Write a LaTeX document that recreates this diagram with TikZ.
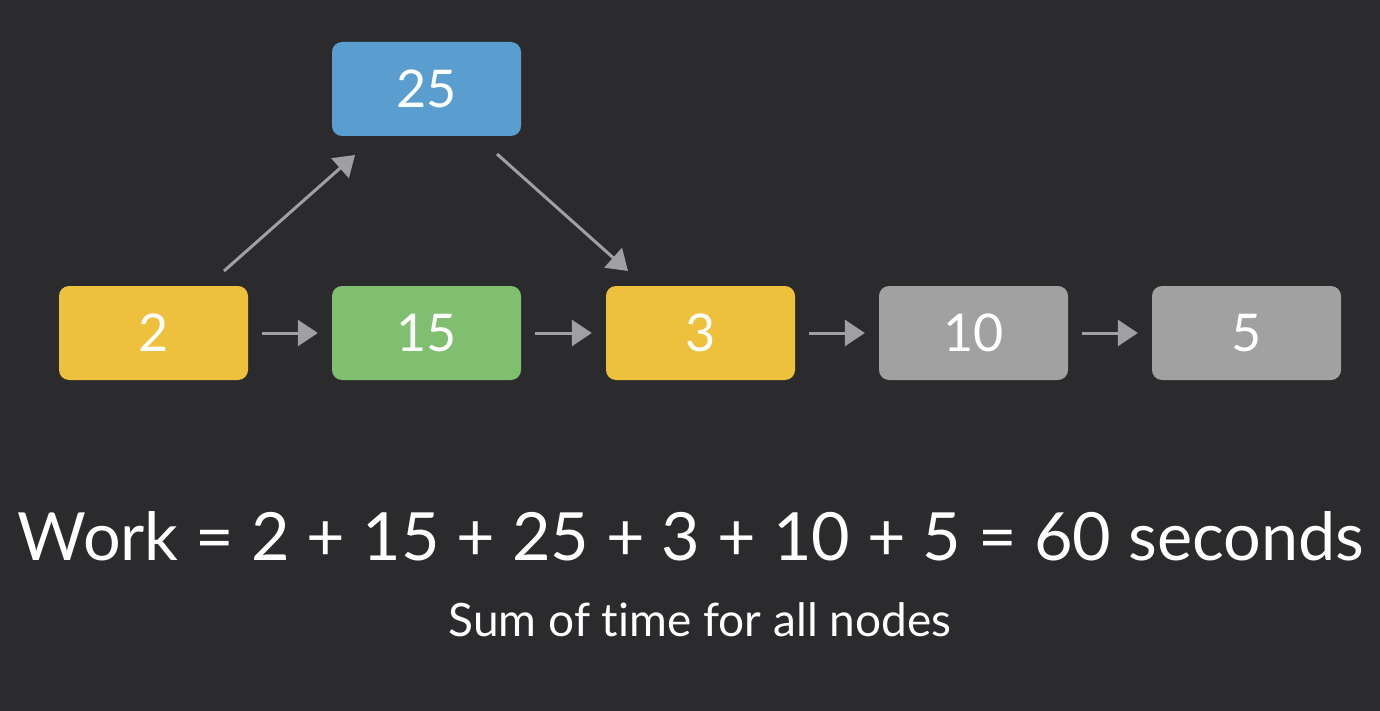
\documentclass[tikz,border=0pt]{standalone}
\usepackage{fontspec}
\setmainfont{Lato}[Ligatures={NoCommon,TeX}]
\usetikzlibrary{arrows.meta}
\definecolor{bg}{HTML}{2B2A2D}
\definecolor{cyellow}{HTML}{EDC13B}
\definecolor{cgreen}{HTML}{80BE70}
\definecolor{cblue}{HTML}{5A9ECF}
\definecolor{cgray}{HTML}{A1A1A2}
\definecolor{carrow}{HTML}{A0A0A2}
\tikzset{
  box/.style={rounded corners=10pt, minimum width=189pt, minimum height=94pt, inner sep=0pt, text=white, font=\fontsize{52}{60}\selectfont},
  conn/.style={draw=carrow, line width=3pt, -{Triangle[length=20pt,width=26pt]}, shorten >=0pt}
}
\begin{document}
\begin{tikzpicture}[x=1pt,y=-1pt]
\fill[bg] (0,0) rectangle (1380,711);
\useasboundingbox (0,0) rectangle (1380,711);
\node[box, fill=cyellow] (n2) at (153.5,333) {2};
\node[box, fill=cgreen] (n15) at (426.5,333) {15};
\node[box, fill=cyellow] (n3) at (700.5,333) {3};
\node[box, fill=cgray] (n10) at (973.5,333) {10};
\node[box, fill=cgray] (n5) at (1246.5,333) {5};
\node[box, fill=cblue] (n25) at (426.5,89) {25};
\draw[conn] ([xshift=14pt]n2.east) -- ([xshift=-14pt]n15.west);
\draw[conn] ([xshift=14pt]n15.east) -- ([xshift=-14pt]n3.west);
\draw[conn] ([xshift=14pt]n3.east) -- ([xshift=-14pt]n10.west);
\draw[conn] ([xshift=14pt]n10.east) -- ([xshift=-14pt]n5.west);
\coordinate (a1s) at (224,271);
\coordinate (a1e) at (355,155);
\coordinate (a2s) at (497,154);
\coordinate (a2e) at (628,271);
\draw[conn] (a1s) -- (a1e);
\draw[conn] (a2s) -- (a2e);
\node[text=white, font=\fontsize{66.5}{70}\selectfont, anchor=base] (work) at (691,560) {Work = 2 + 15 + 25 + 3 + 10 + 5 = 60 seconds};
\node[text=white, font=\fontsize{46}{52}\selectfont, anchor=base] (sum) at (700,636) {Sum of time for all nodes};
\end{tikzpicture}
\end{document}
